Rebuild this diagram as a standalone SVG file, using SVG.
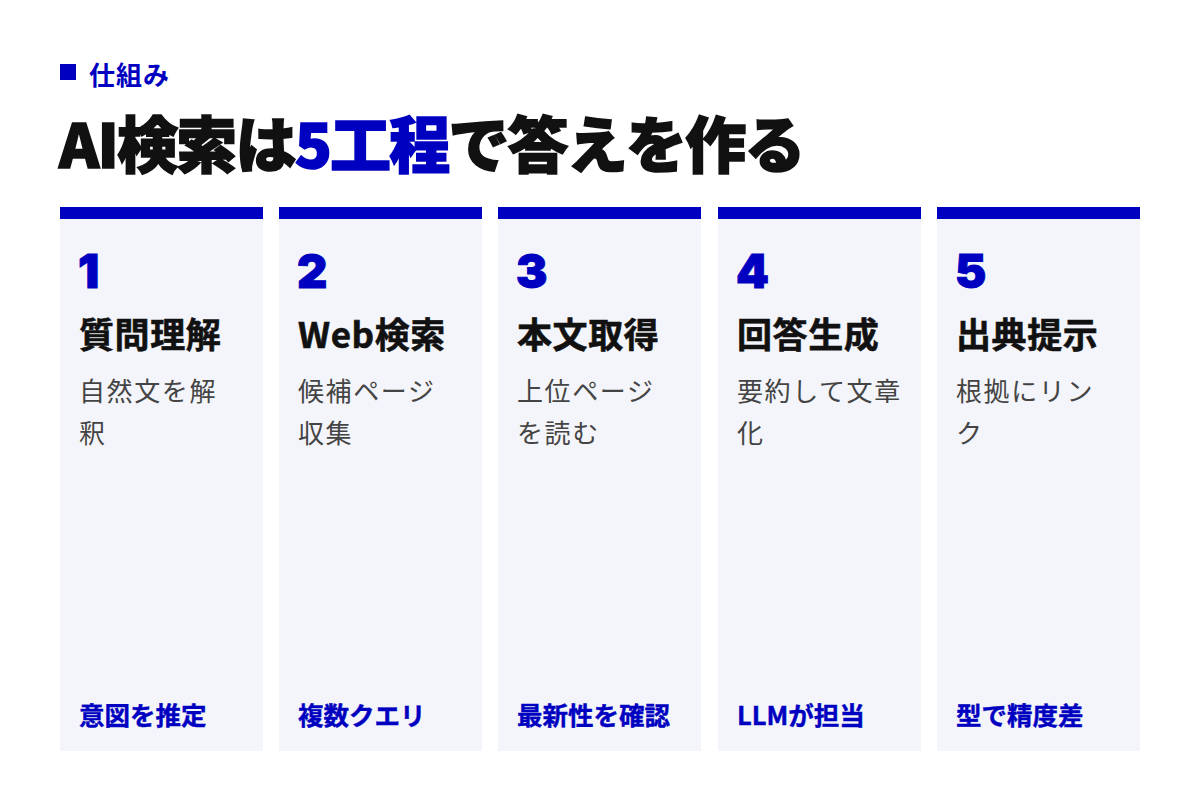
<svg xmlns="http://www.w3.org/2000/svg" width="1200" height="800" viewBox="0 0 1200 800">
<style>
text{font-family:"Noto Sans CJK JP","Noto Sans",sans-serif}
.eyebrow{font-size:26px;font-weight:700;fill:#0000c0;letter-spacing:1px}
.title{font-size:61px;font-weight:900;fill:#111111;stroke:#111111;stroke-width:1.6px;letter-spacing:-1.8px}
.accent{fill:#0000c0;stroke:#0000c0}
.bar{fill:#0000c0}
.card{fill:#f4f5fa}
.num{font-family:Inter,"Noto Sans",sans-serif;font-size:47px;font-weight:900;fill:#0000c0;stroke:#0000c0;stroke-width:1px}
.head{font-size:35px;font-weight:700;fill:#111111;stroke:#111111;stroke-width:0.6px;letter-spacing:0.6px}
.desc{font-size:26px;font-weight:400;fill:#444444;letter-spacing:1.6px}
.foot{font-size:25.5px;font-weight:700;fill:#0000c0;stroke:#0000c0;stroke-width:0.4px}
</style>
<rect width="1200" height="800" fill="#ffffff"/>
<g id="header">
<rect x="60" y="64" width="16" height="16" fill="#0000c0"/>
<text class="eyebrow" x="89" y="85">仕組み</text>
<text class="title" x="59" y="168">AI検索は<tspan class="accent">5工程</tspan>で答えを作る</text>
</g>
<g id="step1">
<rect class="card" x="60" y="207" width="203" height="544"/>
<rect class="bar" x="60" y="207" width="203" height="12"/>
<text class="num" x="78" y="288">1</text>
<text class="head" x="79" y="348">質問理解</text>
<text class="desc" x="79" y="401">自然文を解</text>
<text class="desc" x="79" y="443">釈</text>
<text class="foot" x="79" y="725">意図を推定</text>
</g>
<g id="step2">
<rect class="card" x="279" y="207" width="203" height="544"/>
<rect class="bar" x="279" y="207" width="203" height="12"/>
<text class="num" x="297" y="288">2</text>
<text class="head" x="298" y="348">Web検索</text>
<text class="desc" x="298" y="401">候補ページ</text>
<text class="desc" x="298" y="443">収集</text>
<text class="foot" x="298" y="725">複数クエリ</text>
</g>
<g id="step3">
<rect class="card" x="498" y="207" width="203" height="544"/>
<rect class="bar" x="498" y="207" width="203" height="12"/>
<text class="num" x="516" y="288">3</text>
<text class="head" x="517" y="348">本文取得</text>
<text class="desc" x="517" y="401">上位ページ</text>
<text class="desc" x="517" y="443">を読む</text>
<text class="foot" x="517" y="725">最新性を確認</text>
</g>
<g id="step4">
<rect class="card" x="718" y="207" width="203" height="544"/>
<rect class="bar" x="718" y="207" width="203" height="12"/>
<text class="num" x="736" y="288">4</text>
<text class="head" x="737" y="348">回答生成</text>
<text class="desc" x="737" y="401">要約して文章</text>
<text class="desc" x="737" y="443">化</text>
<text class="foot" x="737" y="725">LLMが担当</text>
</g>
<g id="step5">
<rect class="card" x="937" y="207" width="203" height="544"/>
<rect class="bar" x="937" y="207" width="203" height="12"/>
<text class="num" x="955" y="288">5</text>
<text class="head" x="956" y="348">出典提示</text>
<text class="desc" x="956" y="401">根拠にリン</text>
<text class="desc" x="956" y="443">ク</text>
<text class="foot" x="956" y="725">型で精度差</text>
</g>
<g id="connectors"/>
</svg>
